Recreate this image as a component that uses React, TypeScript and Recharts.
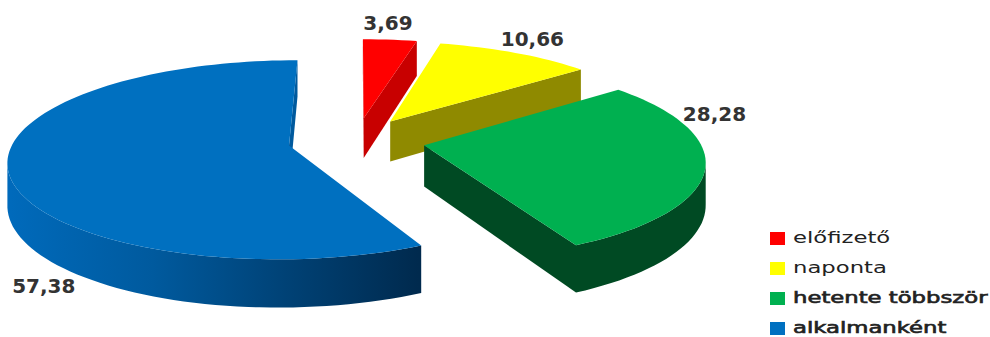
import React from "react";
import { Cell, Legend, Pie, PieChart } from "recharts";

const categories = ["előfizető", "naponta", "hetente többször", "alkalmanként"];
const shares = [3.69, 10.66, 28.28, 57.38];

const topColors = ["#ff0000", "#ffff00", "#00b050", "#0070c0"];
const wallColors = ["#c80000", "#8f8a00", "#004a23", "url(#blueWall)"];
const cutColors = ["#c80000", "#8f8a00", "#004a23", "#005a9e"];
const explodes = [0.235, 0.235, 0.25, 0.25];
const labelNudges = [
  [-2, -10],
  [17, -7],
  [9, -46],
  [36, 124]
];
const legendStrokes = [0, 0, 0.6, 0.6];

const rows = categories.map((name, i) => ({ name, value: shares[i] }));

const CENTER_X = 356.5;
const CENTER_Y = 140;
const RADIUS = 275;
const SQUASH = 0.349; // vertical foreshortening of the disc
const PERSPECTIVE = 0.1416;
const DEPTH = 41;

const RAD = Math.PI / 180;

// Projects a point of the tilted disc: r is in radius units, the slice is pushed out along its mid angle
const project = (i: number, midAngle: number, angle: number, r: number, drop = 0) => {
  const u = explodes[i] * Math.cos(midAngle * RAD) + r * Math.cos(angle * RAD);
  const v = -explodes[i] * Math.sin(midAngle * RAD) - r * Math.sin(angle * RAD);
  const s = 1 / (1 - PERSPECTIVE * v);
  return {
    x: CENTER_X + u * RADIUS * s,
    y: CENTER_Y + v * RADIUS * SQUASH * s + drop * s
  };
};

type Pt = { x: number; y: number };
const toPath = (pts: Pt[]) =>
  "M" + pts.map((p) => `${p.x.toFixed(1)},${p.y.toFixed(1)}`).join("L") + "Z";

const Slice3D = (props: any) => {
  const { startAngle, endAngle, midAngle, name } = props;
  const i = categories.indexOf(name);
  const steps = Math.max(4, Math.ceil(Math.abs(endAngle - startAngle) / 2));
  const angles = Array.from({ length: steps + 1 }, (_, k) => startAngle + ((endAngle - startAngle) * k) / steps);

  const apex = project(i, midAngle, midAngle, 0);
  const apexLow = project(i, midAngle, midAngle, 0, DEPTH);
  const rim = angles.map((a) => project(i, midAngle, a, 1));
  const rimLow = angles.map((a) => project(i, midAngle, a, 1, DEPTH));

  // Outer wall: only the stretch of rim running right to left faces the viewer
  const front: number[] = [];
  rim.forEach((p, k) => {
    if (k > 0 && p.x < rim[k - 1].x) {
      if (front.length === 0) front.push(k - 1);
      front.push(k);
    }
  });
  const last = rim.length - 1;

  return (
    <g>
      <defs>
        <linearGradient id="blueWall" gradientUnits="userSpaceOnUse" x1="10" x2="418" y1="0" y2="0">
          <stop offset="0" stopColor="#006abb" />
          <stop offset="0.35" stopColor="#005a9e" />
          <stop offset="1" stopColor="#002a4e" />
        </linearGradient>
      </defs>
      {rim[0].x < apex.x && (
        <path d={toPath([apex, rim[0], rimLow[0], apexLow])} fill={cutColors[i]} />
      )}
      {apex.x < rim[last].x && (
        <path d={toPath([rim[last], apex, apexLow, rimLow[last]])} fill={cutColors[i]} />
      )}
      {front.length > 0 && (
        <path
          d={toPath([...front.map((k) => rim[k]), ...front.map((k) => rimLow[k]).reverse()])}
          fill={wallColors[i]}
        />
      )}
      <path d={toPath([apex, ...rim])} fill={topColors[i]} />
    </g>
  );
};

const SliceLabel = (props: any) => {
  const { midAngle, name, value } = props;
  const i = categories.indexOf(name);
  const anchor = project(i, midAngle, midAngle, 1);
  return (
    <text
      x={anchor.x + labelNudges[i][0]}
      y={anchor.y + labelNudges[i][1]}
      textAnchor="middle"
      fontFamily="'DejaVu Sans', sans-serif"
      fontSize={20}
      fontWeight={700}
      fill="#333"
    >
      {Number(value).toFixed(2).replace(".", ",")}
    </text>
  );
};

const LegendList = ({ payload }: any) => (
  <div style={{ fontFamily: "'DejaVu Sans', sans-serif", fontSize: 15, color: "#222" }}>
    {(payload ?? []).map((entry: any, i: number) => (
      <div key={entry.value} style={{ display: "flex", alignItems: "center", height: 30 }}>
        <span style={{ width: 15, height: 13, marginRight: 8, background: entry.color, flex: "none" }} />
        <span
          style={{
            whiteSpace: "nowrap",
            lineHeight: "14px",
            transform: "scaleX(1.515)",
            transformOrigin: "left center",
            WebkitTextStroke: `${legendStrokes[i]}px #222`
          }}
        >
          {entry.value}
        </span>
      </div>
    ))}
  </div>
);

export default function App() {
  return (
    <div style={{ position: "absolute", left: 0, top: 0, width: 990, height: 337, overflow: "hidden", background: "#fff" }}>
      <PieChart width={990} height={337} margin={{ top: 0, right: 0, bottom: 0, left: 0 }}>
        <Pie
          data={rows}
          dataKey="value"
          nameKey="name"
          cx={CENTER_X}
          cy={CENTER_Y}
          outerRadius={RADIUS}
          startAngle={90}
          endAngle={-270}
          stroke="none"
          shape={Slice3D}
          label={SliceLabel}
          labelLine={false}
          legendType="rect"
          isAnimationActive={false}
        >
          {categories.map((name, i) => (
            <Cell key={name} fill={topColors[i]} />
          ))}
        </Pie>
        <Legend
          layout="vertical"
          content={LegendList}
          itemSorter={null}
          wrapperStyle={{ position: "absolute", left: 770, top: 223, width: 220, bottom: "auto", right: "auto" }}
        />
      </PieChart>
    </div>
  );
}
